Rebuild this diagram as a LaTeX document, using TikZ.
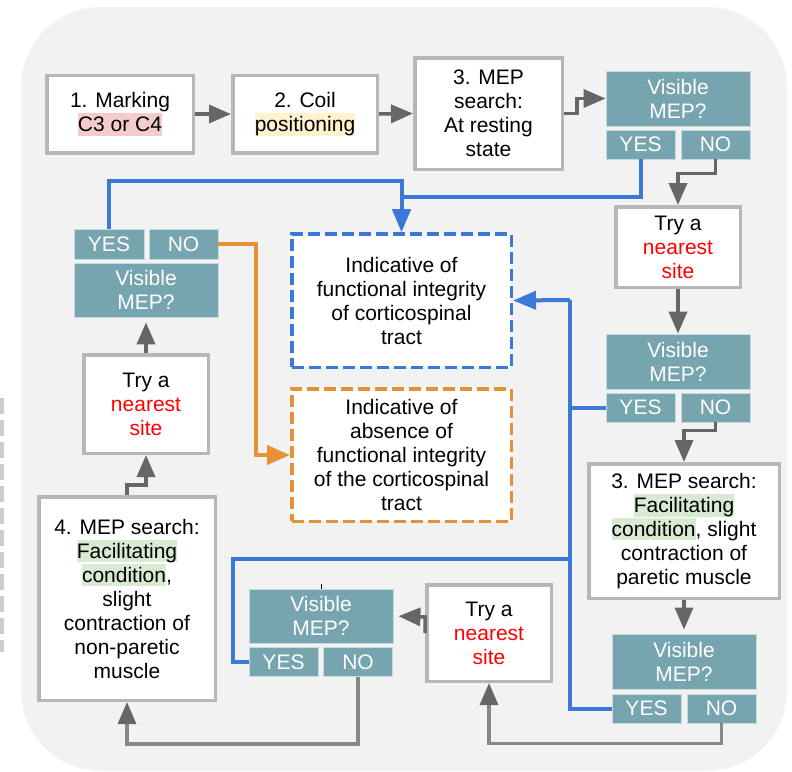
\documentclass[tikz,border=0pt]{standalone}
\usepackage{fontspec}
\setmainfont{Liberation Sans}
\usetikzlibrary{arrows.meta}
\definecolor{bgc}{HTML}{F2F2F2}
\definecolor{bordc}{HTML}{B7B7B7}
\definecolor{arrc}{HTML}{666666}
\definecolor{arrlc}{HTML}{888888}
\definecolor{bluec}{HTML}{3C78D8}
\definecolor{orangec}{HTML}{E69138}
\definecolor{tealc}{HTML}{76A5AF}
\definecolor{tealedge}{HTML}{C5DBDF}
\definecolor{hlpink}{HTML}{F4CCCC}
\definecolor{hlyellow}{HTML}{FFF2CC}
\definecolor{hlgreen}{HTML}{D9EAD3}
\definecolor{redtxt}{HTML}{FF0000}
\definecolor{dashgray}{HTML}{CCCCCC}
\newcommand{\hlbox}[2]{{\setlength{\fboxsep}{0pt}\colorbox{#1}{\rule[-4pt]{0pt}{22.5pt}#2}}}
\begin{document}
\begin{tikzpicture}[x=1pt,y=-1pt,
  every node/.style={font=\fontsize{21pt}{24pt}\selectfont},
  wbox/.style={draw=bordc, line width=3.5pt, fill=white, align=center, inner sep=0pt},
  tbox/.style={fill=tealc, draw=tealedge, line width=0.8pt, text=white, align=center, inner sep=0pt},
  bdash/.style={draw=bluec, line width=3.5pt, dash pattern=on 12pt off 5pt, fill=white, align=center, inner sep=0pt},
  odash/.style={draw=orangec, line width=3.5pt, dash pattern=on 12pt off 5pt, fill=white, align=center, inner sep=0pt},
  garrow/.style={draw=arrc, line width=3.5pt, -{Triangle[length=22pt,width=18pt]}},
  garrowl/.style={draw=arrlc, line width=3.2pt, -{Triangle[length=22pt,width=18pt,color=arrc]}},
  bline/.style={draw=bluec, line width=4pt},
  barrow/.style={draw=bluec, line width=4pt, -{Triangle[length=23pt,width=18pt]}},
  oarrow/.style={draw=orangec, line width=4pt, -{Triangle[length=23pt,width=19pt]}}
]
\useasboundingbox (0,0) rectangle (792,771);
\fill[bgc, rounded corners=80pt] (21,7) rectangle (787,771);
\draw[dashgray, line width=4pt, dash pattern=on 16pt off 6pt] (2,398) -- (2,652);

% white boxes
\node[wbox, minimum width=146.5pt, minimum height=77.5pt] (b1) at (120,114) {1. Marking\\\hlbox{hlpink}{C3 or C4}};
\node[wbox, minimum width=144.5pt, minimum height=77.5pt] (b2) at (305,114) {2. Coil\\\hlbox{hlyellow}{positioning}};
\node[wbox, minimum width=147.5pt, minimum height=111.5pt] (b3) at (488.5,113.5) {3. MEP\\search:\hspace*{23pt}\\At resting\\state};
\node[wbox, minimum width=124.5pt, minimum height=80.5pt] (try1) at (678,247) {Try a\\\textcolor{redtxt}{nearest}\\\textcolor{redtxt}{site}};
\node[bdash, minimum width=219.5pt, minimum height=133.5pt] (blue) at (401.5,300.5) {Indicative of\\functional integrity\\of corticospinal\\tract};
\node[odash, minimum width=219.5pt, minimum height=132.5pt] (orange) at (401.5,455) {Indicative of\\absence of\\functional integrity\\of the corticospinal\\tract};
\node[wbox, minimum width=124.5pt, minimum height=98.5pt] (tryL) at (146,404) {Try a\\\textcolor{redtxt}{nearest}\\\textcolor{redtxt}{site}};
\node[wbox, minimum width=176.5pt, minimum height=203.5pt] (b4) at (127,598.5) {4. MEP search:\\\hlbox{hlgreen}{Facilitating}\\\hlbox{hlgreen}{condition},\\slight\\contraction of\\non-paretic\\muscle};
\node[wbox, minimum width=190.5pt, minimum height=134.5pt] (b3r) at (684,531) {3. MEP search:\\\hlbox{hlgreen}{Facilitating}\\\hlbox{hlgreen}{condition}, slight\\contraction of\\paretic muscle};
\node[wbox, minimum width=124.5pt, minimum height=96.5pt] (tryM) at (489,633) {Try a\\\textcolor{redtxt}{nearest}\\\textcolor{redtxt}{site}};

% decision 1
\node[tbox, minimum width=144pt, minimum height=55pt] (d1) at (678,98.5) {Visible\\MEP?};
\node[tbox, minimum width=69pt, minimum height=29pt] (yes1) at (640.5,144.5) {YES};
\node[tbox, minimum width=69pt, minimum height=29pt] (no1) at (715.5,144.5) {NO};
% decision 2
\node[tbox, minimum width=144pt, minimum height=55pt] (d2) at (678,361.5) {Visible\\MEP?};
\node[tbox, minimum width=69pt, minimum height=29pt] (yes2) at (640.5,407.5) {YES};
\node[tbox, minimum width=69pt, minimum height=29pt] (no2) at (715.5,407.5) {NO};
% decision 3
\node[tbox, minimum width=144pt, minimum height=55pt] (d3) at (684,661.5) {Visible\\MEP?};
\node[tbox, minimum width=69pt, minimum height=29pt] (yes3) at (646.5,708.5) {YES};
\node[tbox, minimum width=69pt, minimum height=29pt] (no3) at (721.5,708.5) {NO};
% decision 4
\node[tbox, minimum width=144pt, minimum height=54pt] (d4) at (321,616) {Visible\\MEP?};
\node[tbox, minimum width=69pt, minimum height=29pt] (yes4) at (283.5,662) {YES};
\node[tbox, minimum width=69pt, minimum height=29pt] (no4) at (358,662) {NO};
% decision 5 (left)
\node[tbox, minimum width=70pt, minimum height=30pt] (yes5) at (109,244) {YES};
\node[tbox, minimum width=69pt, minimum height=30pt] (no5) at (183.5,244) {NO};
\node[tbox, minimum width=144pt, minimum height=54pt] (d5) at (146,290) {Visible\\MEP?};

% tick above d4
\coordinate (tick) at (321,584);
\draw[black, line width=0.8pt] (tick) -- (d4.north);

% gray connectors
\draw[garrow] (b1.east) -- (b2.west);
\draw[garrow] (b2.east) -- (b3.west);
\draw[garrow] (b3.east) -- ++(13,0) |- (d1.west);
\draw[garrow] (no1.south) -- ++(0,14) -| (try1.north);
\draw[garrow] (try1.south) -- (d2.north);
\draw[garrow] (no2.south) -- ++(0,8) -| (b3r.north);
\draw[garrow, shorten >=4pt] (b3r.south) -- (d3.north);
\draw[garrowl] (no3.south) -- ++(0,20) -| (tryM.south);
\draw[garrow, shorten >=5pt] (tryM.west) -- ++(0,-16) -- (d4.east);
\draw[garrowl] (no4.south) -- ++(0,67) -| (b4.south);
\draw[garrow] (b4.north) -- ++(0,-10) -| (tryL.south);
\draw[garrow, shorten >=5pt] (tryL.north) -- (d5.south);

% blue connectors
\coordinate (trunkTop) at (570,300);
\coordinate (trunkBot) at (570,708.5);
\draw[barrow] (yes1.south) -- ++(0,38) -| (blue.north);
\draw[barrow] (yes5.north) -- ++(0,-48) -| (blue.north);
\draw[bline] (yes3.west) -- (trunkBot) -- (trunkTop);
\draw[barrow] (trunkTop) -- (blue.east);
\draw[bline] (yes2.west) -- (570,407.5);
\draw[bline] (yes4.west) -- ++(-16,0) |- (570,559);

% orange connector
\draw[oarrow] (no5.east) -- ++(38,0) |- (orange.west);
\end{tikzpicture}
\end{document}
